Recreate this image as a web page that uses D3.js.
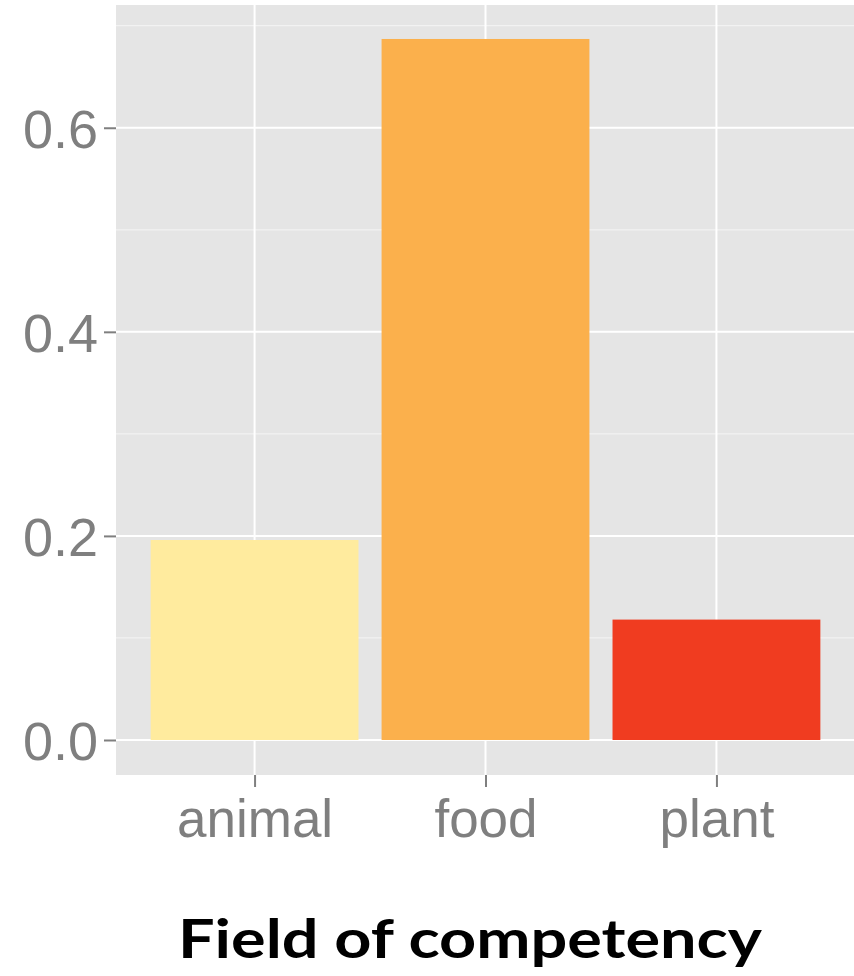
<!DOCTYPE html>
<html>
<head>
<meta charset="utf-8">
<script src="https://cdn.jsdelivr.net/npm/d3@7"></script>
<style>
  body { margin: 0; background: #fff; }
  .tick-lbl { font-family: "Liberation Sans", Arial, sans-serif; fill: #7f7f7f; }
</style>
</head>
<body>
<div id="chart"></div>
<script>
// data
const categories = ["animal", "food", "plant"];
const shares = [0.196, 0.687, 0.118];
const barColors = ["#FFEB9E", "#FBB04C", "#F03C20"];
const majorTicks = [0.0, 0.2, 0.4, 0.6];
const minorTicks = [0.1, 0.3, 0.5, 0.7];
const xTitle = "Field of competency";

const width = 854, height = 976;
const margin = {top: 5, right: -1, bottom: 201, left: 116};
const innerW = width - margin.left - margin.right,
      innerH = height - margin.top - margin.bottom;

let svg = d3.select("#chart")
    .append("svg")
    .attr("width", width)
    .attr("height", height);

let g = svg.append("g")
    .attr("transform", "translate(" + margin.left + "," + margin.top + ")");

// ggplot style discrete axis: 0.6 units of padding on each side
let x = d3.scaleLinear()
    .domain([0.4, categories.length + 0.6])
    .range([0, innerW]);

let y = d3.scaleLinear()
    .domain([-0.0343, 0.7203])
    .range([innerH, 0]);

const step = x(2) - x(1);

g.append("rect")
    .attr("width", innerW)
    .attr("height", innerH)
    .attr("fill", "#E5E5E5");

// minor grid
g.selectAll(".minor")
    .data(minorTicks)
    .enter().append("line")
    .attr("x1", 0).attr("x2", innerW)
    .attr("y1", d => y(d)).attr("y2", d => y(d))
    .attr("stroke", "#F2F2F2")
    .attr("stroke-width", 1.2);

// major grid
g.selectAll(".major")
    .data(majorTicks)
    .enter().append("line")
    .attr("x1", 0).attr("x2", innerW)
    .attr("y1", d => y(d)).attr("y2", d => y(d))
    .attr("stroke", "#FFFFFF")
    .attr("stroke-width", 2);

g.selectAll(".vgrid")
    .data(categories)
    .enter().append("line")
    .attr("x1", (d, i) => x(i + 1)).attr("x2", (d, i) => x(i + 1))
    .attr("y1", 0).attr("y2", innerH)
    .attr("stroke", "#FFFFFF")
    .attr("stroke-width", 2);

// bars
g.selectAll(".bar")
    .data(shares)
    .enter().append("rect")
    .attr("x", (d, i) => x(i + 1) - 0.45 * step)
    .attr("width", 0.9 * step)
    .attr("y", d => y(d))
    .attr("height", d => y(0) - y(d))
    .attr("fill", (d, i) => barColors[i]);

// y axis
let yAxis = g.append("g")
    .call(d3.axisLeft(y).tickValues(majorTicks).tickFormat(d3.format(".1f")).tickSize(12).tickPadding(6));
yAxis.select(".domain").remove();
yAxis.selectAll(".tick line").attr("stroke", "#7f7f7f").attr("stroke-width", 2);
yAxis.selectAll(".tick text")
    .attr("class", "tick-lbl")
    .style("font-size", "54px")
    .attr("dy", "0.36em");

// x axis
let xAxis = g.append("g")
    .attr("transform", "translate(0," + innerH + ")")
    .call(d3.axisBottom(x).tickValues([1, 2, 3]).tickFormat(d => categories[d - 1]).tickSize(12).tickPadding(10));
xAxis.select(".domain").remove();
xAxis.selectAll(".tick line").attr("stroke", "#7f7f7f").attr("stroke-width", 2);
xAxis.selectAll(".tick text")
    .attr("class", "tick-lbl")
    .style("font-size", "53px")
    .attr("dy", "0.76em");

// axis title
svg.append("text")
    .attr("x", 470)
    .attr("y", 958)
    .attr("text-anchor", "middle")
    .attr("textLength", 584)
    .attr("lengthAdjust", "spacingAndGlyphs")
    .style("font-family", "Lato, 'DejaVu Sans', sans-serif")
    .style("font-weight", "bold")
    .style("font-size", "54px")
    .style("fill", "#000")
    .text(xTitle);
</script>
</body>
</html>
